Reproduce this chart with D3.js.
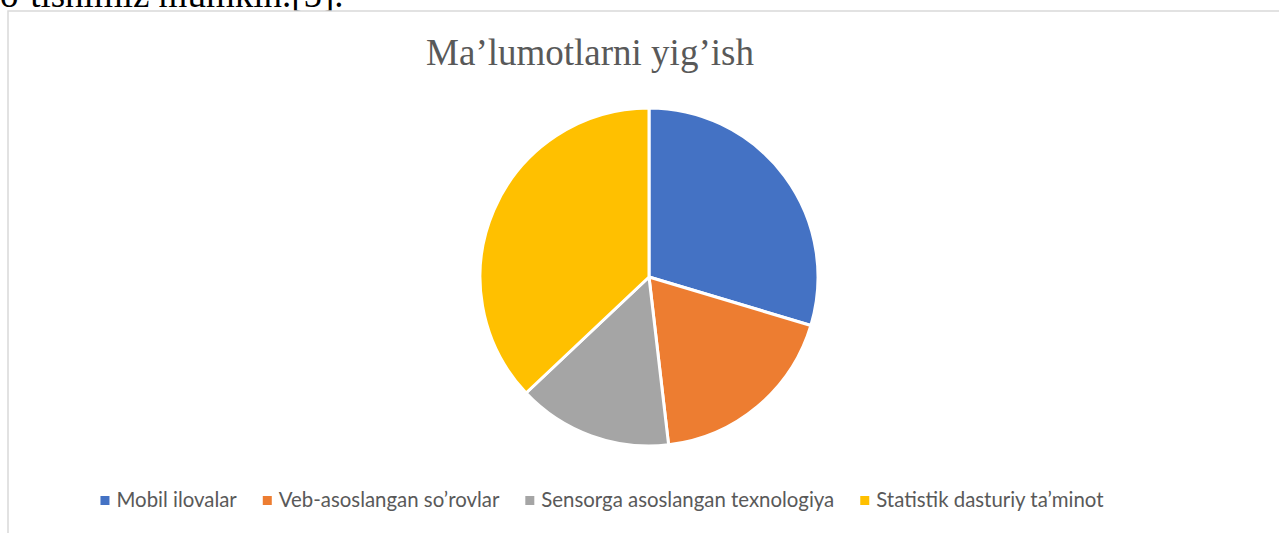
<!DOCTYPE html>
<html>
<head>
<meta charset="utf-8">
<script src="https://cdn.jsdelivr.net/npm/d3@7"></script>
<style>
  html, body { margin: 0; padding: 0; background: #fff; overflow: hidden; }
  svg { display: block; }
</style>
</head>
<body>
<svg id="chart" width="1279" height="533"></svg>
<script>
// chart data
var categories = ['Mobil ilovalar', 'Veb-asoslangan so’rovlar', 'Sensorga asoslangan texnologiya', 'Statistik dasturiy ta’minot'];
var values = [8, 5, 4, 10];
var colors = ['#4472C4', '#ED7D31', '#A5A5A5', '#FFC000'];
var title = 'Ma’lumotlarni yig’ish';
var textAbove = 'o’tishimiz mumkin.[5].';

var svg = d3.select('#chart'),
  W = +svg.attr('width'),
  H = +svg.attr('height');

// bit of the document text above the chart, cut by the top edge (as in the source)
svg.append('text')
  .attr('x', 0)
  .attr('y', 7)
  .attr('font-family', '"Liberation Serif", "Times New Roman", serif')
  .attr('font-size', 37)
  .attr('fill', '#000')
  .text(textAbove);

// chart frame (runs past right and bottom edges)
svg.append('rect')
  .attr('x', 8)
  .attr('y', 11)
  .attr('width', 1275)
  .attr('height', 540)
  .attr('fill', '#fff')
  .attr('stroke', '#d9d9d9')
  .attr('stroke-width', 1.5);

svg.append('text')
  .attr('x', 590)
  .attr('y', 65)
  .attr('text-anchor', 'middle')
  .attr('font-family', '"Liberation Serif", "Times New Roman", serif')
  .attr('font-size', 37)
  .attr('fill', '#595959')
  .text(title);

var cx = 649, cy = 277, r = 169;

var pie = d3.pie().sort(null).value(function(d) { return d; });
var arc = d3.arc().innerRadius(0).outerRadius(r);

var g = svg.append('g').attr('transform', 'translate(' + cx + ',' + cy + ')');

g.selectAll('path')
  .data(pie(values))
  .enter()
  .append('path')
  .attr('d', arc)
  .attr('fill', function(d, i) { return colors[i]; })
  .attr('stroke', '#fff')
  .attr('stroke-width', 3)
  .attr('stroke-linejoin', 'round');

// legend
var legend = svg.append('g').attr('class', 'legend');
var fontSize = 20.4, box = 9, boxGap = 7, itemGap = 26;

var items = legend.selectAll('g')
  .data(categories)
  .enter()
  .append('g');

items.append('rect')
  .attr('width', box)
  .attr('height', box)
  .attr('y', -box - 2)
  .attr('fill', function(d, i) { return colors[i]; });

items.append('text')
  .attr('x', box + boxGap)
  .attr('font-family', 'Lato, "Open Sans", sans-serif')
  .attr('font-size', fontSize)
  .attr('fill', '#595959')
  .text(function(d) { return d; });

var xpos = 0, offsets = [];
items.each(function() {
  offsets.push(xpos);
  var tw = d3.select(this).select('text').node().getComputedTextLength();
  xpos += box + boxGap + tw + itemGap;
});
var total = xpos - itemGap;
var startX = 602 - total / 2;

items.attr('transform', function(d, i) {
  return 'translate(' + (startX + offsets[i]) + ',507)';
});
</script>
</body>
</html>
